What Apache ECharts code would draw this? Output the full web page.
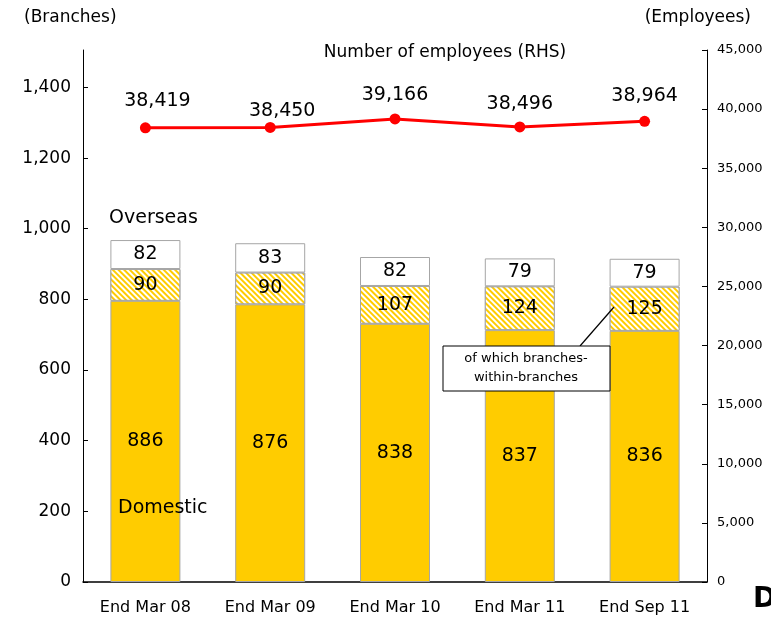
<!DOCTYPE html>
<html style="height: 100%">
  <head>
    <meta charset="UTF-8" />
    <title>Branches and employees</title>
    <script src="https://cdn.jsdelivr.net/npm/echarts/dist/echarts.min.js"></script>
  </head>
  <body style="height: 100%; margin: 0; background: #fff">
    <div id="main" style="width: 771px; height: 618px"></div>
    <script>
      // data
      var periods = ['End Mar 08', 'End Mar 09', 'End Mar 10', 'End Mar 11', 'End Sep 11'];
      var domestic = [886, 876, 838, 837, 836];
      var withinBranches = [90, 90, 107, 124, 125];
      var overseas = [82, 83, 82, 79, 79];
      var employees = [38419, 38450, 39166, 38496, 38964];
      var leftTicks = [0, 200, 400, 600, 800, 1000, 1200, 1400];

      // domestic total includes the branches-within-branches part
      var domesticRest = domestic.map(function (v, i) {
        return v - withinBranches[i];
      });

      // label nudges for the employee numbers
      var lineLabelOffsets = [[12, -7], [12, 4], [0, -4], [0, -3], [0, -5]];

      var font = 'DejaVu Sans';
      var chart = echarts.init(document.getElementById('main'));

      var option = {
        animation: false,
        textStyle: { fontFamily: font, color: '#000' },
        grid: { left: 83, right: 64, top: 50, bottom: 36 },
        xAxis: {
          type: 'category',
          data: periods,
          axisLine: { lineStyle: { color: '#000', width: 1.5 } },
          axisTick: { inside: true, length: 6, lineStyle: { color: '#000' } },
          axisLabel: { color: '#000', fontSize: 16, margin: 18, fontFamily: font }
        },
        yAxis: [
          {
            type: 'value',
            min: 0,
            max: 1506,
            interval: 200,
            axisLine: { show: true, lineStyle: { color: '#000' } },
            axisTick: { show: true, inside: true, length: 5, customValues: leftTicks, lineStyle: { color: '#000' } },
            axisLabel: { color: '#000', fontSize: 17, margin: 12, customValues: leftTicks, fontFamily: font },
            splitLine: { show: false }
          },
          {
            type: 'value',
            min: 0,
            max: 45000,
            interval: 5000,
            axisLine: { show: true, lineStyle: { color: '#000' } },
            axisTick: { show: true, inside: true, length: 5, lineStyle: { color: '#000' } },
            axisLabel: { color: '#000', fontSize: 13, margin: 10, fontFamily: font },
            splitLine: { show: false }
          }
        ],
        series: [
          {
            name: 'Domestic',
            type: 'bar',
            stack: 'br',
            barWidth: 70,
            data: domesticRest,
            itemStyle: { color: '#FFCC00', borderColor: '#A6A6A6', borderWidth: 1 },
            label: {
              show: true,
              position: 'inside',
              fontSize: 19,
              color: '#000',
              fontFamily: font,
              formatter: function (p) {
                return domestic[p.dataIndex];
              }
            }
          },
          {
            name: 'of which branches-within-branches',
            type: 'bar',
            stack: 'br',
            data: withinBranches,
            itemStyle: {
              color: '#FFCC00',
              borderColor: '#A6A6A6',
              borderWidth: 1,
              decal: {
                symbol: 'rect',
                symbolSize: 1,
                dashArrayX: [[1, 0]],
                dashArrayY: [1.8, 1.8],
                rotation: Math.PI / 4,
                color: '#ffffff'
              }
            },
            label: { show: true, position: 'inside', fontSize: 19, color: '#000', fontFamily: font }
          },
          {
            name: 'Overseas',
            type: 'bar',
            stack: 'br',
            data: overseas,
            itemStyle: { color: '#fff', borderColor: '#A6A6A6', borderWidth: 1 },
            label: { show: true, position: 'inside', fontSize: 19, color: '#000', fontFamily: font }
          },
          {
            name: 'Number of employees (RHS)',
            type: 'line',
            yAxisIndex: 1,
            data: employees.map(function (v, i) {
              return { value: v, label: { offset: lineLabelOffsets[i] } };
            }),
            symbol: 'circle',
            symbolSize: 11,
            lineStyle: { color: '#FF0000', width: 3 },
            itemStyle: { color: '#FF0000' },
            label: {
              show: true,
              position: 'top',
              fontSize: 19,
              color: '#000',
              fontFamily: font,
              formatter: function (p) {
                return p.value.toLocaleString('en-US');
              }
            }
          }
        ],
        graphic: [
          { type: 'text', left: 24, top: 9, style: { text: '(Branches)', font: '17px "DejaVu Sans"', fill: '#000' } },
          { type: 'text', right: 20, top: 9, style: { text: '(Employees)', font: '17px "DejaVu Sans"', fill: '#000' } },
          {
            type: 'text', x: 445, y: 53,
            style: { text: 'Number of employees (RHS)', font: '17px "DejaVu Sans"', fill: '#000', align: 'center', verticalAlign: 'middle' }
          },
          { type: 'text', x: 109, y: 218, z: 100, style: { text: 'Overseas', font: '19px "DejaVu Sans"', fill: '#000', verticalAlign: 'middle' } },
          { type: 'text', x: 118, y: 508, z: 100, style: { text: 'Domestic', font: '19px "DejaVu Sans"', fill: '#000', verticalAlign: 'middle' } },
          { type: 'line', shape: { x1: 580, y1: 346, x2: 614, y2: 307 }, style: { stroke: '#000', lineWidth: 1.2 }, z: 100 },
          {
            type: 'rect', shape: { x: 443, y: 346, width: 167, height: 45 },
            style: { fill: '#fff', stroke: '#000', lineWidth: 1 }, z: 100
          },
          {
            type: 'text', x: 526, y: 368, z: 101,
            style: {
              text: 'of which branches-\nwithin-branches',
              font: '13px "DejaVu Sans"', fill: '#000', align: 'center', verticalAlign: 'middle', lineHeight: 19
            }
          },
          { type: 'text', x: 753, y: 586, z: 100, style: { text: 'D', font: 'bold 28px "DejaVu Sans"', fill: '#000' } }
        ]
      };

      chart.setOption(option);
    </script>
  </body>
</html>
